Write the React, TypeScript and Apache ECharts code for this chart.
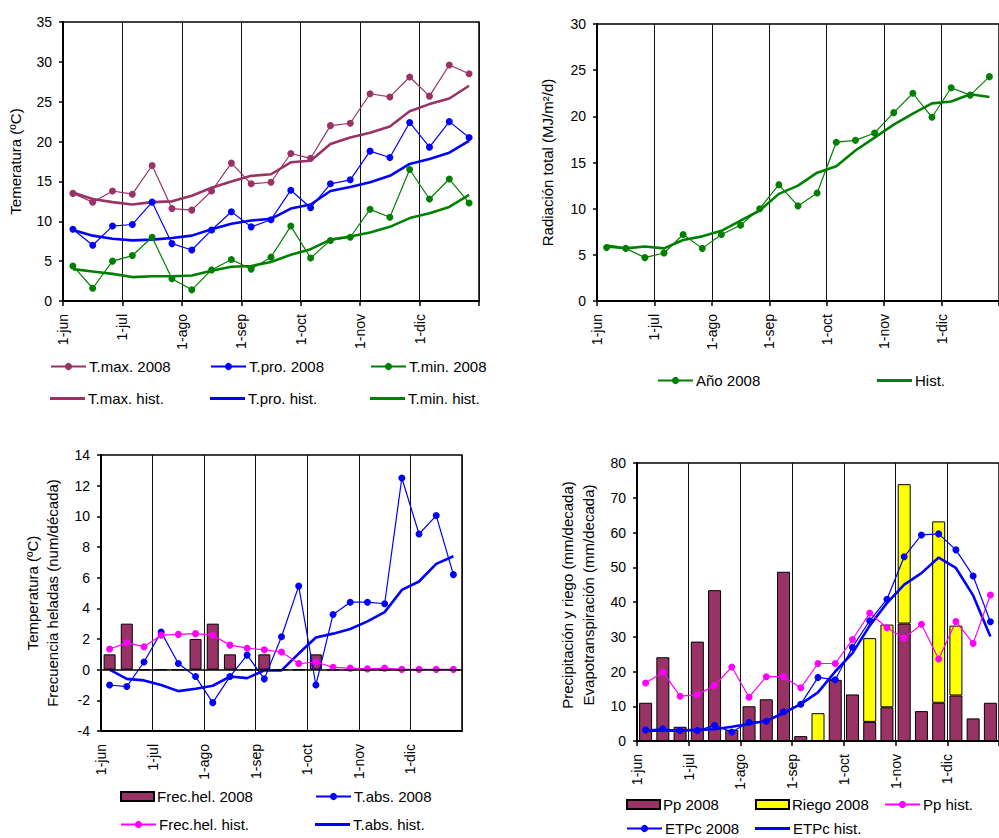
import React, { useEffect, useRef } from "react";
import * as echarts from "echarts";

// ---- categories (decades, Jun -> Dec) ----
const decades = [
  "jun-1", "jun-2", "jun-3", "jul-1", "jul-2", "jul-3", "ago-1", "ago-2", "ago-3",
  "sep-1", "sep-2", "sep-3", "oct-1", "oct-2", "oct-3", "nov-1", "nov-2", "nov-3",
  "dic-1", "dic-2", "dic-3",
];
const monthLabels = ["1-jun", "1-jul", "1-ago", "1-sep", "1-oct", "1-nov", "1-dic"];

// ---- Panel 1: temperature (ºC) ----
const tMax2008 = [13.5, 12.4, 13.8, 13.4, 17.0, 11.6, 11.4, 13.8, 17.3, 14.7, 14.9, 18.5, 17.9, 22.0, 22.3, 26.0, 25.6, 28.1, 25.7, 29.6, 28.5];
const tMaxHist = [13.6, 12.8, 12.4, 12.1, 12.4, 12.5, 13.2, 14.2, 15.0, 15.7, 15.9, 17.4, 17.6, 19.7, 20.5, 21.1, 21.9, 23.8, 24.7, 25.4, 27.0];
const tPro2008 = [9.0, 7.0, 9.4, 9.6, 12.4, 7.2, 6.4, 8.9, 11.2, 9.3, 10.2, 13.9, 11.7, 14.7, 15.2, 18.8, 18.0, 22.4, 19.3, 22.5, 20.5];
const tProHist = [8.9, 8.2, 7.8, 7.6, 7.7, 7.9, 8.2, 9.0, 9.7, 10.1, 10.3, 11.6, 12.1, 13.8, 14.3, 14.9, 15.7, 17.2, 17.8, 18.6, 20.1];
const tMin2008 = [4.4, 1.6, 5.0, 5.7, 8.0, 2.8, 1.4, 3.9, 5.2, 4.0, 5.5, 9.4, 5.4, 7.6, 8.0, 11.5, 10.5, 16.5, 12.8, 15.3, 12.3];
const tMinHist = [4.0, 3.7, 3.4, 3.0, 3.1, 3.1, 3.2, 3.8, 4.3, 4.4, 4.9, 5.8, 6.5, 7.7, 8.1, 8.6, 9.3, 10.4, 11.0, 11.8, 13.3];

// ---- Panel 2: total radiation (MJ/m2/d) ----
const rad2008 = [5.8, 5.7, 4.7, 5.2, 7.2, 5.7, 7.2, 8.2, 10.0, 12.6, 10.3, 11.7, 17.2, 17.4, 18.2, 20.4, 22.5, 19.9, 23.1, 22.3, 24.3];
const radHist = [6.0, 5.7, 5.9, 5.7, 6.6, 7.0, 7.6, 8.7, 9.8, 11.6, 12.5, 13.9, 14.6, 16.3, 17.7, 19.1, 20.3, 21.4, 21.6, 22.4, 22.1];

// ---- Panel 3: frosts ----
const frecHel2008 = [1, 3, 0, 0, 0, 2, 3, 1, 0, 1, 0, 0, 1, 0, 0, 0, 0, 0, 0, 0, 0];
const frecHelHist = [1.35, 1.75, 1.5, 2.25, 2.3, 2.35, 2.25, 1.6, 1.4, 1.3, 1.15, 0.4, 0.5, 0.15, 0.1, 0.05, 0.1, 0.02, 0.02, 0.02, 0.02];
const tAbs2008 = [-1.0, -1.1, 0.5, 2.45, 0.4, -0.45, -2.15, -0.45, 0.95, -0.6, 2.15, 5.45, -1.0, 3.6, 4.4, 4.4, 4.3, 12.5, 8.85, 10.05, 6.2];
const tAbsHist = [0.0, -0.6, -0.7, -1.0, -1.4, -1.25, -1.05, -0.45, -0.55, -0.05, -0.05, 1.05, 2.1, 2.35, 2.65, 3.15, 3.75, 5.2, 5.75, 6.9, 7.4];

// ---- Panel 4: precipitation, irrigation, ETPc (mm/decada) ----
const pp2008 = [11.0, 24.1, 4.1, 28.6, 43.4, 3.2, 10.0, 12.0, 48.7, 1.4, 0, 17.6, 13.4, 5.5, 9.7, 33.8, 8.6, 11.0, 13.1, 6.5, 11.0];
const riego2008 = [null, null, null, null, null, null, null, null, null, null, 8.0, null, null, 24.1, 23.8, 40.1, null, 52.2, 20.1, null, null];
const ppHist = [16.7, 19.8, 12.9, 13.3, 16.0, 21.3, 12.6, 18.5, 18.5, 15.3, 22.3, 22.3, 29.2, 36.8, 32.6, 29.6, 33.6, 23.6, 34.4, 28.1, 42.0];
const etpc2008 = [3.2, 3.5, 3.0, 3.0, 4.5, 2.6, 5.4, 5.7, 8.4, 10.6, 18.3, 17.6, 27.0, 34.6, 40.8, 53.0, 59.3, 59.6, 55.0, 47.5, 34.3];
const etpcHist = [3.0, 3.0, 3.0, 3.2, 3.4, 4.1, 4.9, 5.8, 8.0, 10.6, 14.0, 20.0, 25.3, 33.2, 39.7, 45.0, 48.3, 52.8, 49.8, 41.9, 30.1];

const FONT = '"Liberation Sans", Arial, Helvetica, sans-serif';
const MAROON = "#993366";
const BLUE = "#0000FF";
const GREEN = "#008000";
const MAGENTA = "#FF00FF";
const YELLOW = "#FFFF00";

// Month axis (display only): 21 decade slots, a month every 3 slots
function monthAxis(gridIndex: number, ticks: boolean) {
  return {
    type: "value",
    gridIndex,
    position: "bottom",
    min: 0,
    max: decades.length,
    interval: 3,
    axisLine: { show: true, onZero: false, lineStyle: { color: "#000", width: 2 } },
    axisTick: { show: ticks, length: 5, lineStyle: { color: "#000", width: 1.5 } },
    axisLabel: {
      rotate: 90,
      margin: 13,
      fontSize: 14,
      color: "#000",
      fontFamily: FONT,
      formatter: (v: number) => monthLabels[Math.round(v / 3)] ?? "",
    },
    splitLine: { show: true, lineStyle: { color: "#111", width: 1 } },
  };
}

// Data axis: one category per decade (hidden, same extent as the month axis)
function decadeAxis(gridIndex: number) {
  return {
    type: "category",
    gridIndex,
    position: "bottom",
    data: decades,
    boundaryGap: true,
    show: false,
  };
}

function yAxisFor(
  gridIndex: number, min: number, max: number, interval: number,
  name: string, nameGap: number, lineHeight = 20, shift = 0
) {
  return {
    type: "value",
    gridIndex,
    min,
    max,
    interval,
    name,
    nameLocation: "middle",
    nameGap,
    nameTextStyle: { fontSize: 15, color: "#000", fontFamily: FONT, lineHeight, padding: [0, 0, 0, shift] },
    axisLine: { show: true, lineStyle: { color: "#000", width: 2 } },
    axisTick: { show: true, length: 4, lineStyle: { color: "#000", width: 1.5 } },
    axisLabel: { margin: 11, fontSize: 14, color: "#000", fontFamily: FONT },
    splitLine: { show: false },
  };
}

function line2008(name: string, data: number[], color: string, g: number, width = 1.2) {
  return {
    name,
    type: "line",
    xAxisIndex: 4 + g,
    yAxisIndex: g,
    data,
    symbol: "circle",
    symbolSize: 7,
    showSymbol: true,
    lineStyle: { color, width },
    itemStyle: { color },
    z: 4,
  };
}

function lineHist(name: string, data: number[], color: string, g: number, width = 2.6) {
  return {
    name,
    type: "line",
    xAxisIndex: 4 + g,
    yAxisIndex: g,
    data,
    symbol: "none",
    lineStyle: { color, width },
    itemStyle: { color },
    z: 3,
  };
}

type Kind = "pt" | "line" | "bar";
function lg(name: string, left: number, cy: number, kind: Kind) {
  const base: any = {
    data: [name],
    left,
    top: cy - 8,
    padding: 0,
    itemGap: 0,
    selectedMode: false,
    textStyle: { fontSize: 15, color: "#000", fontFamily: FONT, padding: [0, 0, 0, -2] },
  };
  if (kind === "bar") {
    base.icon = "rect";
    base.itemWidth = 33;
    base.itemHeight = 9;
  } else if (kind === "line") {
    base.icon = "rect";
    base.itemWidth = 35;
    base.itemHeight = 3;
  } else {
    base.itemWidth = 35;
    base.itemHeight = 9;
  }
  return base;
}

function buildOption() {
  const gridStyle = { show: true, borderColor: "#000", borderWidth: 1.5, backgroundColor: "transparent" };
  return {
    animation: false,
    backgroundColor: "#fff",
    textStyle: { fontFamily: FONT },
    grid: [
      { ...gridStyle, left: 63, top: 22, width: 416, height: 279 },
      { ...gridStyle, left: 597, top: 24, width: 415, height: 277 },
      { ...gridStyle, left: 101, top: 455, width: 361, height: 276 },
      { ...gridStyle, left: 637, top: 463, width: 365, height: 278 },
    ],
    xAxis: [
      monthAxis(0, true), monthAxis(1, true), monthAxis(2, false), monthAxis(3, true),
      decadeAxis(0), decadeAxis(1), decadeAxis(2), decadeAxis(3),
    ],
    yAxis: [
      yAxisFor(0, 0, 35, 5, "Temeratura (ºC)", 38),
      yAxisFor(1, 0, 30, 5, "Radiación total (MJ/m²/d)", 40),
      yAxisFor(2, -4, 14, 2, "Temperatura (ºC)\nFrecuencia heladas (num/década)", 39, 20),
      yAxisFor(3, 0, 80, 10, "Precipitación y riego (mm/decada)\nEvapotranspiración (mm/decada)", 38, 21, 14),
    ],
    legend: [
      lg("T.max. 2008", 50, 367, "pt"),
      lg("T.pro. 2008", 210, 367, "pt"),
      lg("T.min. 2008", 370, 367, "pt"),
      lg("T.max. hist.", 50, 399, "line"),
      lg("T.pro. hist.", 210, 399, "line"),
      lg("T.min. hist.", 370, 399, "line"),
      lg("Año 2008", 657, 381, "pt"),
      lg("Hist.", 877, 381, "line"),
      lg("Frec.hel. 2008", 120, 797, "bar"),
      lg("T.abs. 2008", 315, 797, "pt"),
      lg("Frec.hel. hist.", 120, 825, "pt"),
      lg("T.abs. hist.", 315, 825, "line"),
      lg("Pp 2008", 626, 805, "bar"),
      lg("Riego 2008", 755, 805, "bar"),
      lg("Pp hist.", 884, 805, "pt"),
      lg("ETPc 2008", 626, 829, "pt"),
      lg("ETPc hist.", 755, 829, "line"),
    ],
    series: [
      // panel 1
      line2008("T.max. 2008", tMax2008, MAROON, 0),
      line2008("T.pro. 2008", tPro2008, BLUE, 0),
      line2008("T.min. 2008", tMin2008, GREEN, 0),
      lineHist("T.max. hist.", tMaxHist, MAROON, 0),
      lineHist("T.pro. hist.", tProHist, BLUE, 0),
      lineHist("T.min. hist.", tMinHist, GREEN, 0),
      // panel 2
      line2008("Año 2008", rad2008, GREEN, 1),
      lineHist("Hist.", radHist, GREEN, 1),
      // panel 3
      {
        name: "Frec.hel. 2008",
        type: "bar",
        xAxisIndex: 6,
        yAxisIndex: 2,
        data: frecHel2008,
        barWidth: 12,
        itemStyle: { color: MAROON, borderColor: "#000", borderWidth: 1 },
        z: 2,
        markLine: {
          silent: true,
          symbol: "none",
          label: { show: false },
          lineStyle: { color: "#000", width: 1.5, type: "solid" },
          data: [{ yAxis: 0 }],
        },
      },
      line2008("T.abs. 2008", tAbs2008, BLUE, 2),
      line2008("Frec.hel. hist.", frecHelHist, MAGENTA, 2),
      lineHist("T.abs. hist.", tAbsHist, BLUE, 2),
      // panel 4
      {
        name: "Pp 2008",
        type: "bar",
        xAxisIndex: 7,
        yAxisIndex: 3,
        stack: "agua",
        data: pp2008,
        barWidth: 13,
        itemStyle: { color: MAROON, borderColor: "#000", borderWidth: 1 },
        z: 2,
      },
      {
        name: "Riego 2008",
        type: "bar",
        xAxisIndex: 7,
        yAxisIndex: 3,
        stack: "agua",
        data: riego2008,
        barWidth: 13,
        itemStyle: { color: YELLOW, borderColor: "#000", borderWidth: 1 },
        z: 2,
      },
      line2008("Pp hist.", ppHist, MAGENTA, 3),
      line2008("ETPc 2008", etpc2008, BLUE, 3),
      lineHist("ETPc hist.", etpcHist, BLUE, 3),
    ],
  };
}

export default function App() {
  const ref = useRef<HTMLDivElement>(null);
  useEffect(() => {
    if (!ref.current) return;
    const chart = echarts.init(ref.current, undefined, { renderer: "svg" });
    chart.setOption(buildOption() as any);
    return () => chart.dispose();
  }, []);
  return (
    <div
      ref={ref}
      style={{ position: "absolute", left: 0, top: 0, width: 999, height: 838, overflow: "hidden" }}
    />
  );
}
